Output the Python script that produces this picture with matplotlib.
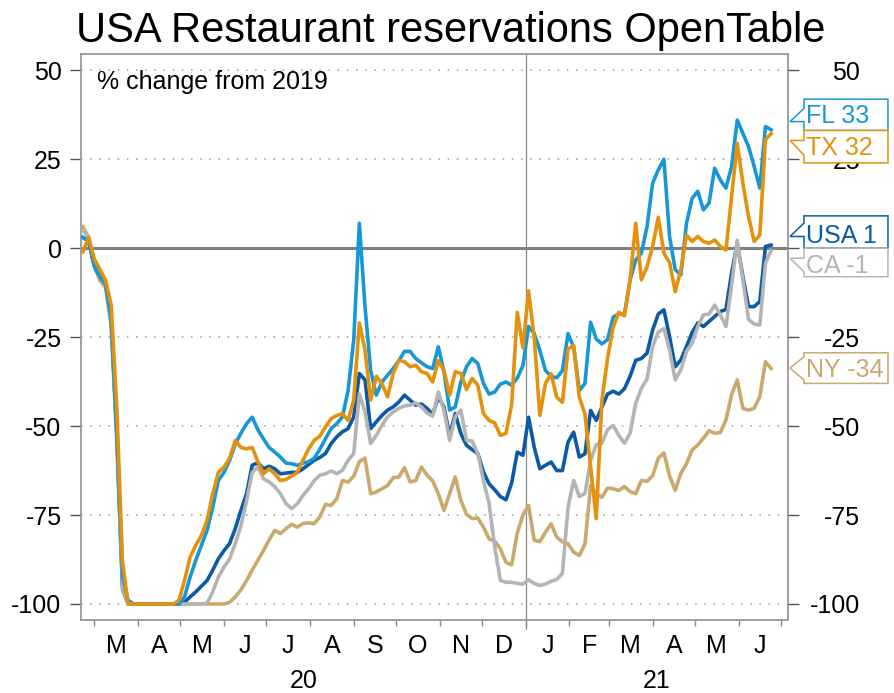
import pandas as pd
import matplotlib
matplotlib.use('Agg')
import matplotlib.pyplot as plt
from matplotlib.patches import Polygon
from matplotlib.transforms import blended_transform_factory

plt.rcParams['font.family'] = ['Liberation Sans', 'DejaVu Sans']

dates = pd.date_range('2020-02-22', periods=123, freq='4D')

fl = [3, 2, -5, -8, -10, -20, -52, -92, -99,
      -100, -100, -100, -100, -100, -100, -100, -100, -100,
      -98, -92.4, -87.7, -83.5, -79.3, -72.8, -65.3, -63, -59.6, -55, -52, -49.3,
      -47.5, -51, -53.6, -56, -57.3, -58.7, -60.4, -60.6, -61, -60.4, -60, -59,
      -56.5, -53.5, -50.7, -49.3, -47.4, -40, -25.8, 7, -16.4, -34.3, -41.3, -37.6,
      -35.7, -33.8, -31.6, -29, -29, -31, -32.2, -33.3, -33.8, -27.7, -34.7, -45.5,
      -44.6, -37.6, -33.3, -31, -32.4, -38, -41, -40.4, -38.2, -37.6, -38.5, -36.5,
      -33, -22, -24, -28.7, -34.4, -36, -36.4, -34.4, -24, -27.8, -40, -38,
      -20.8, -25.5, -26.9, -25.7, -19.4, -18.4, -18.5, -8.9, -3.3, -1.4, 6, 18.3,
      22, 25, 3.3, -6, -7.5, 7, 14, 16, 10.8, 12.7, 22.5, 19.2,
      16.9, 23, 36, 32.3, 28.6, 23, 16.9, 34.2, 33.3]

tx = [-1, 3, -3, -6, -9, -16, -45, -88, -100,
      -100, -100, -100, -100, -100, -100, -100, -100, -99,
      -93.4, -86.8, -83.5, -80.7, -76.5, -69, -63, -61.5, -59, -54, -56, -56.4,
      -56, -60, -63.4, -62, -63.4, -65.3, -65, -64, -63, -59.6, -56.4, -54,
      -52.8, -50.2, -47.9, -47, -46.5, -48.4, -42.7, -21, -28.6, -42.7, -36, -38,
      -41.8, -35.2, -31.5, -31.9, -33.3, -32.9, -34.7, -35.2, -37.6, -31.6, -34.3, -41.3,
      -34.7, -35.2, -39.7, -36.6, -38.5, -46.5, -48.4, -49.1, -52.6, -52, -44, -18,
      -28, -12, -25, -47, -38, -35.3, -41.9, -43.3, -28.3, -27.3, -41.9, -46.6,
      -61.5, -76, -42.8, -31, -22.2, -18, -19, -8.9, 7, -8.9, -5.2, 0.5,
      8.7, -1.4, -4, -12.2, -6.1, 3.7, 1.9, 3.3, 1.9, 1.4, 2.3, 0.5,
      -0.5, 14.5, 29.5, 18.3, 8.9, 1.9, 3.7, 30.5, 32.2]

usa = [3, 2, -5, -8, -10, -20, -52, -95, -100,
       -100, -100, -100, -100, -100, -100, -100, -100, -100,
       -99.5, -98, -96.6, -95, -93.4, -90.5, -87.3, -85, -83, -78.8, -73.7, -69,
       -61, -60.3, -62, -61.3, -62, -63.4, -63.2, -63, -63, -62, -60.8, -59.6,
       -58.8, -57.7, -54.9, -53, -51.6, -50.7, -47.4, -35.2, -37, -50.7, -48.8, -47,
       -45.5, -44.6, -43.2, -41.3, -42.7, -44.1, -43.8, -45, -46.7, -41.8, -44.6, -52.6,
       -46.5, -52.1, -55.4, -56.6, -57.7, -62.9, -66.2, -67.9, -69.8, -70.7, -66, -57.3,
       -58.2, -47.5, -55.9, -62, -61, -60.1, -62.5, -62.5, -54.5, -51.7, -58.7, -57.8,
       -45.6, -48.4, -44.7, -41, -40.2, -41, -39.5, -36, -31.5, -31, -29.5, -23,
       -18.5, -17.3, -24.8, -33.3, -31.4, -27.6, -23.7, -21, -22, -20.6, -19.2, -17.8,
       -17.2, -7, 1.4, -8, -16.4, -16.4, -15, 0.5, 0.9]

ca = [5, 3, -4, -8, -10, -20, -52, -95, -100,
      -100, -100, -100, -100, -100, -100, -100, -100, -100,
      -100, -100, -100, -100, -99.8, -96.6, -92.4, -89.6, -87.3, -83, -78, -71,
      -63, -61.5, -64.8, -65.7, -67, -69, -71.8, -73.2, -71.8, -69.5, -67.6, -65.3,
      -63.8, -63.4, -62.6, -63.4, -62.4, -59.6, -57.7, -41, -46, -54.9, -52.6, -49.8,
      -47.4, -46, -45, -44.3, -44.1, -43.5, -44.6, -46.3, -47.2, -40.4, -45.5, -54,
      -47.4, -45.5, -54, -54.2, -57.7, -65.3, -71.8, -84, -93.4, -93.9, -93.9, -94.2,
      -94.4, -93.2, -94.2, -94.8, -94.4, -93.6, -93.1, -91.4, -72.8, -65.3, -69.8, -68.9,
      -59.7, -55.2, -54.8, -51, -49.8, -52.6, -54.8, -52, -43.6, -39.4, -36.8, -27.7,
      -23.5, -22.6, -28.6, -37, -34.2, -29, -26.7, -22, -18.7, -18.5, -16, -18.7,
      -22, -10.3, 2.3, -8.9, -20, -21.3, -21.6, -4.2, -0.7]

ny = [6, 3, -5, -9, -11, -22, -55, -96, -100,
      -100, -100, -100, -100, -100, -100, -100, -100, -100,
      -100, -100, -100, -100, -100, -100, -100, -100, -99.5, -98, -96, -93.4,
      -90.5, -87.7, -85, -82, -79.3, -80.2, -78.8, -77.6, -78.4, -77.4, -77.2, -77.4,
      -75.5, -72, -72.3, -70.4, -65.3, -65.7, -64.1, -60, -59, -69, -68.5, -67.6,
      -66.7, -64.5, -64.3, -61.7, -65.7, -65.3, -61.5, -63.8, -65.4, -69, -73.7, -69,
      -64.3, -70.9, -74.8, -76, -75.8, -78.4, -81.7, -82.3, -84.5, -88.3, -89, -80,
      -75, -72.3, -82, -82.5, -79.8, -77.5, -81.2, -82.5, -83.1, -85.4, -86.4, -83.1,
      -66.7, -69, -70, -67.4, -67.6, -68.1, -67, -68.4, -69, -65.3, -65.5, -64,
      -59, -57.5, -64, -68, -63.3, -60.6, -56.7, -55.3, -53.4, -51.3, -52, -51.8,
      -48.3, -41.2, -37, -45, -45.5, -45, -41.7, -31.9, -33.8]

names = ['FL', 'TX', 'USA', 'CA', 'NY']
colors = {'FL': '#1797d6', 'TX': '#e3920e', 'USA': '#0b5aa5', 'CA': '#b4b4b4', 'NY': '#c9a96c'}
values = {'FL': fl, 'TX': tx, 'USA': usa, 'CA': ca, 'NY': ny}
draw_order = ['NY', 'USA', 'CA', 'FL', 'TX']

# label boxes on the right (data units): top, bottom, pointer tip, pointer base, text baseline
box_top = [41.9, 33.1, 9.1, 0.0, -29.4]
box_bot = [33.1, 24.0, 0.0, -8.0, -38.0]
tip_y = [35.6, 30.3, 3.3, -2.8, -33.7]
base_y = [(39.3, 35.6), (30.3, 26.2), (7.1, 3.3), (-2.8, -6.6), (-30.5, -37.0)]
text_y = [35.1, 26.2, 1.4, -7.0, -36.1]

month_letters = ['M', 'A', 'M', 'J', 'J', 'A', 'S', 'O', 'N', 'D', 'J', 'F', 'M', 'A', 'M', 'J']
yticks = [-100, -75, -50, -25, 0, 25, 50]

fig = plt.figure(figsize=(8.95, 6.93), dpi=100)
ax = fig.add_axes([81 / 895, 1 - 620 / 693, 707 / 895, 566 / 693])

x0 = pd.Timestamp('2020-02-20 14:00')
x1 = pd.Timestamp('2021-07-06')
ylim = (-104.5, 54.6)

for v in yticks:
    if v == 0:
        ax.axhline(v, color='#808080', lw=2.2, zorder=1)
    else:
        ax.axhline(v, color='#9a9a9a', lw=1.1, ls=(0, (1, 5)), zorder=1)

ybreak = pd.Timestamp('2021-01-01')
ax.axvline(ybreak, ymin=-0.016, ymax=1, color='#888888', lw=0.9, clip_on=False, zorder=1)

for n in draw_order:
    ax.plot(dates, values[n], color=colors[n], lw=2.6, solid_joinstyle='round', zorder=3)

ax.set_xlim(x0, x1)
ax.set_ylim(*ylim)
ax.set_yticks(yticks)
ax.set_yticklabels([str(v) for v in yticks])

month_starts = pd.date_range('2020-03-01', '2021-07-01', freq='MS')
ax.set_xticks(month_starts)
ax.set_xticklabels([])
mids = [month_starts[i] + (month_starts[i + 1] - month_starts[i]) / 2 for i in range(len(month_starts) - 1)]
ax.set_xticks(mids, minor=True)
ax.set_xticklabels(month_letters, minor=True)

ax.tick_params(axis='x', which='major', length=4, color='#888888', width=1)
ax.tick_params(axis='x', which='minor', length=0, pad=10, labelsize=18)
ax.tick_params(axis='y', length=8, color='#555555', width=1, pad=6, labelsize=18)

for s in ax.spines.values():
    s.set_color('#999999')
    s.set_linewidth(1.3)

ax2 = ax.twinx()
ax2.set_ylim(*ylim)
ax2.set_yticks(yticks)
ax2.set_yticklabels([str(v) for v in yticks])
ax2.tick_params(axis='y', length=8, color='#555555', width=1, pad=44, labelsize=18)
for lbl in ax2.get_yticklabels():
    lbl.set_horizontalalignment('right')
for s in ax2.spines.values():
    s.set_visible(False)

# year labels under the month letters
mid20 = x0 + (ybreak - x0) / 2
mid21 = ybreak + (x1 - ybreak) / 2
for xm, yr in [(mid20, '20'), (mid21, '21')]:
    ax.text(xm, -0.1196, yr, transform=blended_transform_factory(ax.transData, ax.transAxes),
            ha='center', va='baseline', fontsize=18)

ax.text(0.0226, 0.938, '% change from 2019', transform=ax.transAxes,
        ha='left', va='baseline', fontsize=18)

fig.text(0.5034, 1 - 42 / 693, 'USA Restaurant reservations OpenTable',
         ha='center', va='baseline', fontsize=30)

# callout boxes with last values
tr = blended_transform_factory(ax2.transAxes, ax2.transData)
bx0, bx1, tipx = 1.0226, 1.1414, 1.0028
for i, n in enumerate(names):
    c = colors[n]
    pts = [(bx0, box_top[i]), (bx1, box_top[i]), (bx1, box_bot[i]), (bx0, box_bot[i]),
           (bx0, base_y[i][1]), (tipx, tip_y[i]), (bx0, base_y[i][0])]
    ax2.add_patch(Polygon(pts, closed=True, facecolor='white', edgecolor=c, lw=1.1,
                          transform=tr, clip_on=False, zorder=5))
    ax2.text(bx0 + 0.003, text_y[i], f'{n} {round(values[n][-1])}', color=c, fontsize=18,
             ha='left', va='baseline', transform=tr, clip_on=False, zorder=6)

fig.savefig('out.png', dpi=100)
